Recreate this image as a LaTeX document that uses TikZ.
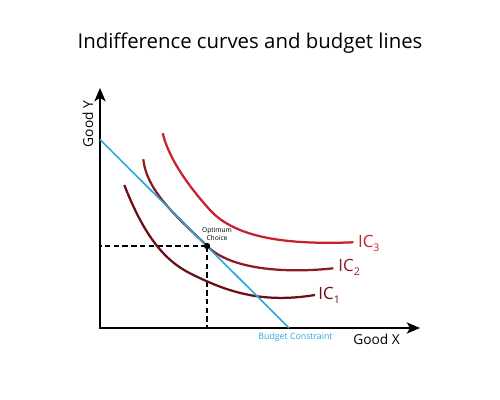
\documentclass[tikz,border=0pt]{standalone}
\usepackage{fontspec}
\setmainfont{Open Sans}
\usetikzlibrary{arrows.meta}
\definecolor{icone}{HTML}{6B0F16}
\definecolor{ictwo}{HTML}{8E1A22}
\definecolor{icthree}{HTML}{C8202C}
\definecolor{budget}{HTML}{29A8E0}
\newcommand{\icsub}[1]{\raisebox{-5pt}{\fontsize{15}{15}\selectfont #1}}

\begin{document}
\begin{tikzpicture}[
  x=0.5mm, y=0.5mm,
  axis/.style={line width=2.6pt, {Stealth[length=19pt,width=16pt,inset=5pt]}-{Stealth[length=19pt,width=16pt,inset=5pt]}},
  curve/.style={line width=3.2pt},
  guide/.style={line width=2.8pt, dash pattern=on 8pt off 4.5pt},
  iclabel/.style={font=\fontsize{24}{28}\selectfont, anchor=base west, inner sep=0pt},
  dot/.style={circle, fill=black, inner sep=0pt, minimum size=9pt}
]
\useasboundingbox (-100,-72) rectangle (400,328);

\node[font=\fontsize{29}{34}\selectfont, anchor=base] (title) at (150,279) {Indifference curves and budget lines};

% axes
\coordinate (O) at (0,0);
\coordinate (ytip) at (0,240);
\coordinate (xtip) at (320,0);
\draw[axis] (ytip) |- (xtip);
\node[font=\fontsize{19.5}{23}\selectfont, rotate=90] (goody) at (-12,204) {Good Y};
\node[font=\fontsize{19.5}{23}\selectfont] (goodx) at (276.5,-11) {Good X};

% optimum and guides
\coordinate (opt) at (107,82);
\draw[guide] (opt) -- (opt -| O);
\draw[guide] (opt) -- (opt |- O);

% indifference curves
\draw[curve, icone] (24.3,143) .. controls (43.1,94.9) and (62.9,68.3) .. (90,54.7)
  .. controls (125,37.2) and (160,24) .. (215,33);
\draw[curve, ictwo] (43.3,168.7) .. controls (47,135) and (80,109) .. (107,82)
  .. controls (132,57) and (190,55) .. (233.3,59.7);
\draw[curve, icthree] (62.7,194.7) .. controls (70,165) and (95,134.5) .. (110,118)
  .. controls (135,90.5) and (185,83) .. (253.3,85.7);
\node[iclabel, text=icone] (iconelbl) at (218.3,28) {IC\icsub{1}};
\node[iclabel, text=ictwo] (ictwolbl) at (238.3,56.3) {IC\icsub{2}};
\node[iclabel, text=icthree] (icthreelbl) at (258,80.3) {IC\icsub{3}};

% budget line
\coordinate (bud1) at (0,188.5);
\coordinate (bud2) at (189,0);
\draw[budget, line width=2.3pt] (bud1) -- (bud2);
\node[text=budget, font=\fontsize{12.5}{14}\selectfont] (budlbl) at (195.5,-9) {Budget Constraint};

\node[dot] (optdot) at (opt) {};
\node[font=\fontsize{9.5}{11}\selectfont, align=center] (optlbl) at (117,94) {Optimum\\Choice};
\end{tikzpicture}
\end{document}
